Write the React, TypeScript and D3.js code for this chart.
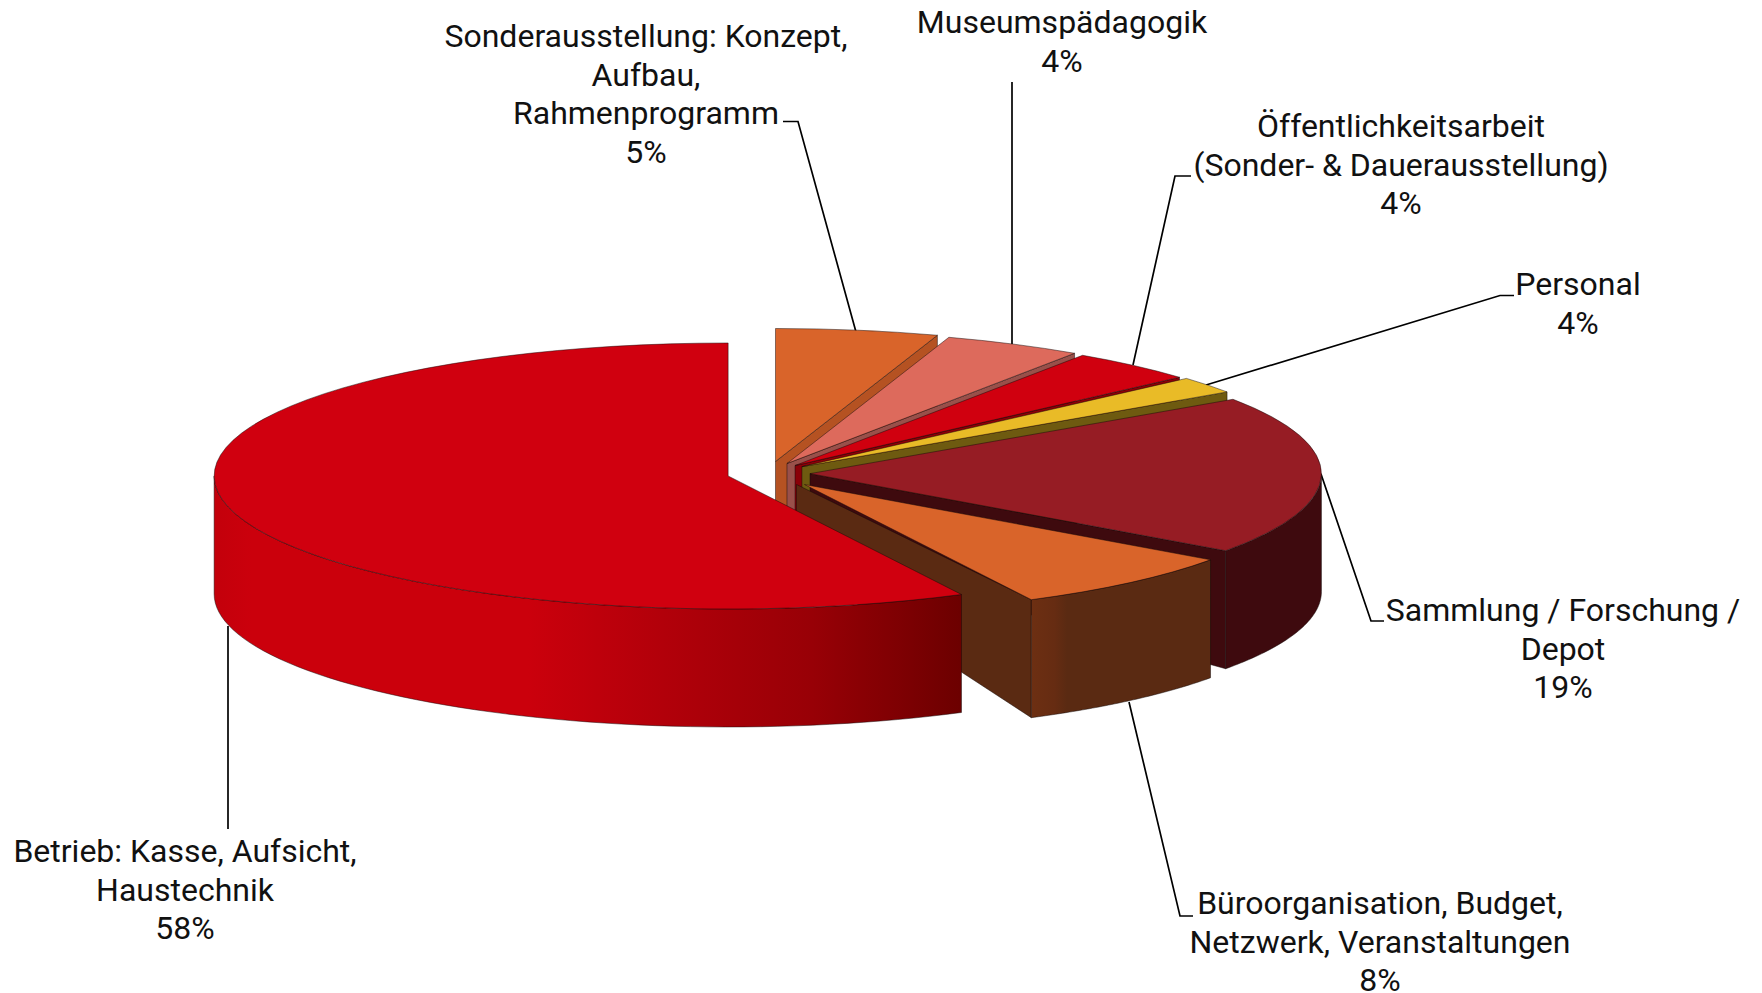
import React from "react";
import * as d3 from "d3";

// shares (the "4%" on Personal is what the chart prints, the slice is smaller)
const sliceShares = [5.1, 4.35, 4.0, 2.05, 19.4, 7.6, 57.5];
const percentLabels = ["5%", "4%", "4%", "4%", "19%", "8%", "58%"];
const nameLines = [
  ["Sonderausstellung: Konzept,", "Aufbau,", "Rahmenprogramm"],
  ["Museumspädagogik"],
  ["Öffentlichkeitsarbeit", "(Sonder- & Dauerausstellung)"],
  ["Personal"],
  ["Sammlung / Forschung /", "Depot"],
  ["Büroorganisation, Budget,", "Netzwerk, Veranstaltungen"],
  ["Betrieb: Kasse, Aufsicht,", "Haustechnik"],
];

const topColors = ["#d9642a", "#dd6a5c", "#d0000f", "#e9bb27", "#961c24", "#d9642a", "#d0000f"];
const cutColors = ["#b55222", "#99504a", "#8a0008", "#6e5a10", "#3e0a0e", "#5a2a12", "#7a0000"];
const sideColors = ["#b55222", "#99504a", "#8a0008", "#6e5a10", "#3e0a0e", "url(#sideBuero)", "url(#sideBetrieb)"];

const width = 1762;
const height = 993;
const cx = 768;
const cy = 473.5;
const rx = 514;
const ry = 133;
const depth = 118;
const apexDepth = 80;
const explosion = [47, 43, 41, 43, 42, 56, 41];
// the perspective of the original makes some slices a bit smaller than the ellipse
const radiusScale = [1, 1, 1, 1, 0.995, 0.972, 1];
const leanBuero = 8;
const fontSize = 32;
const lineGap = 38.7;

// label centre x, first baseline y, leader polyline
const labelX = [646, 1062, 1401, 1578, 1563, 1380, 185];
const labelY = [47, 33, 137, 295, 621, 914, 862];
const leaders: [number, number][][] = [
  [[783, 121.5], [798, 121.5], [856, 332]],
  [[1012, 82], [1012, 344]],
  [[1191, 176], [1175, 176], [1133, 365]],
  [[1514, 295.5], [1500, 295.5], [1206, 385]],
  [[1384, 621], [1371, 621], [1321, 474]],
  [[1193, 916], [1180, 916], [1129, 702]],
  [[228, 829], [228, 626]],
];

const pie = d3.pie<number>().sort(null);
const slices = pie(sliceShares);
const line = d3.line();
const edge = "rgba(20,10,10,0.6)";

const App = () => {
  const parts = slices.map((s, i) => {
    const mid = (s.startAngle + s.endAngle) / 2;
    const ax = cx + explosion[i] * Math.sin(mid);
    const ay = cy - (explosion[i] * Math.cos(mid) * ry) / rx;
    const k = radiusScale[i];
    const rim = (t: number, dy = 0): [number, number] => [
      ax + rx * k * Math.sin(t),
      ay - ry * k * Math.cos(t) + dy,
    ];

    // cut face on the clockwise end of the slice, only seen when it looks towards the viewer
    const lean = i === 5 ? leanBuero : 0;
    const cut =
      s.endAngle < Math.PI
        ? line([
            [ax - lean, ay],
            rim(s.endAngle),
            rim(s.endAngle, depth),
            [ax - lean, ay + apexDepth],
          ]) + "Z"
        : null;

    // outer wall, front half of the ellipse only
    const a0 = Math.max(s.startAngle, Math.PI / 2);
    const a1 = Math.min(s.endAngle, (3 * Math.PI) / 2);
    let wall: string | null = null;
    if (a1 > a0) {
      const ts = d3.range(0, 61).map((n) => a0 + ((a1 - a0) * n) / 60);
      wall =
        line([
          ...ts.map((t) => rim(t)),
          ...ts.slice().reverse().map((t) => rim(t, depth)),
        ]) + "Z";
    }
    const top = d3
      .arc<d3.PieArcDatum<number>>()
      .innerRadius(0)
      .outerRadius(rx * k)(s);
    return { i, ax, ay, cut, wall, top };
  });

  return (
    <svg
      width={width}
      height={height}
      style={{ position: "fixed", left: 0, top: 0, display: "block", background: "#fff" }}
    >
      <defs>
        <linearGradient id="sideBetrieb">
          <stop offset="0" stopColor="#c3000b" />
          <stop offset="0.05" stopColor="#cb000c" />
          <stop offset="0.42" stopColor="#cb000c" />
          <stop offset="0.6" stopColor="#b2000a" />
          <stop offset="0.8" stopColor="#980006" />
          <stop offset="1" stopColor="#6c0000" />
        </linearGradient>
        <linearGradient id="sideBuero">
          <stop offset="0" stopColor="#6d2f12" />
          <stop offset="0.13" stopColor="#662c12" />
          <stop offset="0.2" stopColor="#5a2a12" />
          <stop offset="1" stopColor="#5a2a12" />
        </linearGradient>
      </defs>

      {leaders.map((pts, i) => (
        <path key={i} d={line(pts) ?? ""} fill="none" stroke="#000" strokeWidth={1.7} />
      ))}

      {parts.map(({ i, ax, ay, cut, wall, top }) => (
        <g key={i}>
          {cut && <path d={cut} fill={cutColors[i]} stroke={edge} strokeWidth={0.8} />}
          {wall && <path d={wall} fill={sideColors[i]} stroke={edge} strokeWidth={0.8} />}
          <path
            d={top ?? ""}
            transform={`translate(${ax},${ay}) scale(1,${ry / rx})`}
            fill={topColors[i]}
            stroke={edge}
            strokeWidth={0.8}
            vectorEffect="non-scaling-stroke"
          />
        </g>
      ))}

      <g fontFamily="Roboto, sans-serif" fontSize={fontSize} fill="#111" textAnchor="middle">
        {nameLines.map((lines, i) => (
          <text key={i} x={labelX[i]} y={labelY[i]}>
            {[...lines, percentLabels[i]].map((t, j) => (
              <tspan key={j} x={labelX[i]} y={labelY[i] + j * lineGap}>
                {t}
              </tspan>
            ))}
          </text>
        ))}
      </g>
    </svg>
  );
};

export default App;
